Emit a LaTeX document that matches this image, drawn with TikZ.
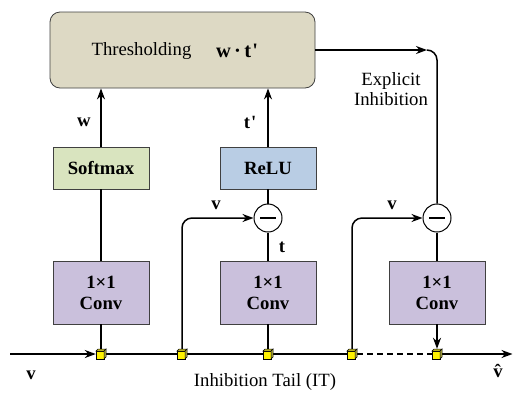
\documentclass[tikz,border=0pt]{standalone}
\usepackage{fontspec}
\setmainfont{Liberation Serif}
\usetikzlibrary{arrows.meta}
\definecolor{thrfill}{RGB}{221,217,196}
\definecolor{smfill}{RGB}{217,228,191}
\definecolor{relufill}{RGB}{185,205,228}
\definecolor{convfill}{RGB}{202,192,220}
\newcommand{\fs}{\fontsize{18.7}{21}\selectfont}
\begin{document}
\begin{tikzpicture}[x=1pt,y=-1pt,
  box/.style={draw=black!75, line width=0.8pt, inner sep=0pt, align=center, font=\fs\bfseries},
  convbox/.style={box, fill=convfill, minimum width=96pt, minimum height=63pt},
  smallbox/.style={box, minimum width=96pt, minimum height=42pt},
  conn/.style={line width=1.5pt},
  arr/.style={conn, -{Stealth[length=11pt,width=8pt,inset=3.5pt]}},
  minusnode/.style={circle, draw, line width=1pt, fill=white, minimum size=28pt, inner sep=0pt},
  junc/.style={rectangle, minimum size=10pt, inner sep=0pt},
  lbl/.style={font=\fs\bfseries, inner sep=0pt},
  txt/.style={font=\fs, inner sep=0pt, align=center},
  cube/.pic={
    \draw[fill=yellow, line width=0.5pt] (-5,-3) rectangle (3,5);
    \draw[fill=yellow!80!black, line width=0.5pt] (-5,-3) -- (-3,-5) -- (5,-5) -- (3,-3) -- cycle;
    \draw[fill=yellow!65!black, line width=0.5pt] (3,-3) -- (5,-5) -- (5,3) -- (3,5) -- cycle;
  }]
\useasboundingbox (0,0) rectangle (513,392);

% boxes
\node[box, font=\fs, fill=thrfill, rounded corners=10pt, minimum width=265pt, minimum height=76pt] (thr) at (182.5,50) {};
\node[txt] (thrtxt) at (141.5,51) {Thresholding};
\node[lbl, font=\fontsize{20.5}{22}\selectfont\bfseries] (formula) at (237,51) {w\,·\,t\kern1pt\textquotesingle};
\node[smallbox, fill=smfill] (soft) at (101,168) {Softmax};
\node[smallbox, fill=relufill] (relu) at (268,168) {ReLU};
\node[convbox] (conv1) at (101,292.5) {1×1\\Conv};
\node[convbox] (conv2) at (268,292.5) {1×1\\Conv};
\node[convbox] (conv3) at (437,292.5) {1×1\\Conv};
\node[minusnode] (m1) at (268,218) {};
\node[minusnode] (m2) at (437,218) {};
\draw[line width=2pt] ([xshift=-8pt]m1.center) -- ([xshift=8pt]m1.center);
\draw[line width=2pt] ([xshift=-8pt]m2.center) -- ([xshift=8pt]m2.center);

% junctions
\node[junc] (j1) at (101,354) {};
\node[junc] (j2) at (182,354) {};
\node[junc] (j3) at (268,354) {};
\node[junc] (j4) at (352,354) {};
\node[junc] (j5) at (437,354) {};
\coordinate (vin) at (10,354);
\coordinate (vout) at (512.5,354);
\coordinate (turn) at (427,50);

% connectors
\draw[arr] (vin) -- (j1);
\draw[conn] (j1) -- (j2) -- (j3) -- (j4);
\draw[conn, dash pattern=on 6pt off 4pt] (j4) -- (j5);
\draw[arr] (j5) -- (vout);
\draw[conn] (j1.center) -- (conv1);
\draw[conn] (conv1) -- (soft);
\draw[arr] (soft) -- (soft |- thr.south);
\draw[conn] (j3.center) -- (conv2);
\draw[conn] (conv2) -- (m1);
\draw[conn] (m1) -- (relu);
\draw[arr] (relu) -- (relu |- thr.south);
\draw[arr, rounded corners=10pt] (j2.center) |- (m1);
\draw[arr, rounded corners=10pt] (j4.center) |- (m2);
\draw[arr] (thr.east |- turn) -- (turn);
\draw[conn, rounded corners=10pt] (turn) -- (m2 |- turn) -- (m2);
\draw[conn] (conv3) -- (m2);
\draw[arr] (conv3) -- (j5);

% cubes
\foreach \j in {j1,j2,j3,j4,j5} { \pic at (\j) {cube}; }

% labels
\node[lbl] (lw) at (84,122) {w};
\node[lbl] (ltp) at (250,122) {t\kern1pt\textquotesingle};
\node[lbl] (lt) at (282,247) {t};
\node[lbl] (lv1) at (216,205) {v};
\node[lbl] (lv2) at (392,205) {v};
\node[lbl] (lvin) at (31,375) {v};
\node[lbl] (lvout) at (498,371) {\^{v}};
\node[txt] (expl) at (391,89) {Explicit\\[-0.5pt]Inhibition};
\node[txt] (it) at (265,382) {Inhibition Tail (IT)};
\end{tikzpicture}
\end{document}
